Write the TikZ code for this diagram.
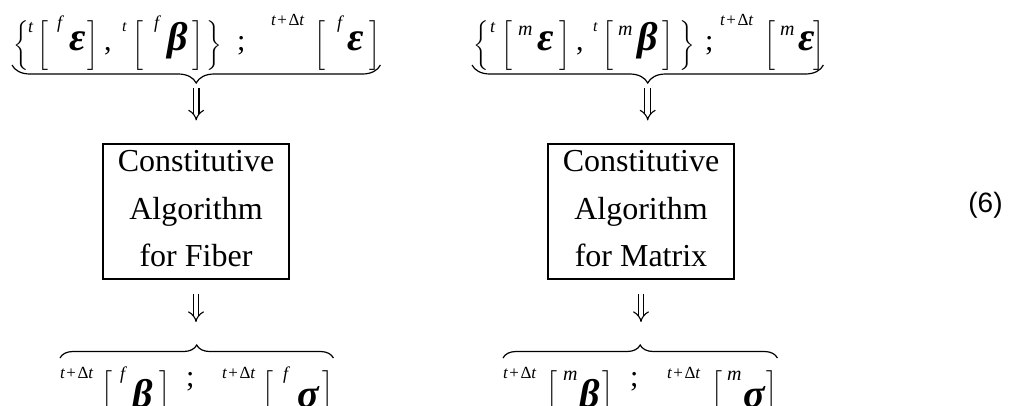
\documentclass[tikz,border=0pt]{standalone}
\usepackage{amsmath}
\usepackage{exscale}
\usepackage{fontspec}
\setmainfont{Liberation Serif}
\newfontfamily\sansf{Liberation Sans}
\usetikzlibrary{calc,decorations.pathreplacing,arrows.meta}
\delimiterfactor=1000
\delimitershortfall=0pt
\newcommand\at[2]{\rlap{\hspace*{#1pt}#2}}
\newcommand\dlm[3]{\raisebox{#3pt}{$\left#1\vcenter{\hrule height #2pt width 0pt}\right.$}}
\newcommand\gk[1]{{\fontsize{40}{40}\selectfont\bfseries\itshape #1}}
\newcommand\sps[3]{\raisebox{#2pt}{\fontsize{#1}{#1}\selectfont\itshape #3}}
\newcommand\tdt{{\fontsize{17}{17}\selectfont\itshape t\kern1.5pt\upshape+\kern1.5pt Δ\itshape t}}
\newcommand\pn[2]{\raisebox{#1pt}{\fontsize{30}{30}\selectfont #2}}
\tikzset{
  fml/.style={anchor=base west, inner sep=0pt, font=\fontsize{20}{24}\selectfont},
  box/.style={draw, line width=1.1pt, minimum width=186pt, minimum height=135pt,
    align=center, inner sep=0pt, text depth=6pt, font=\fontsize{32}{47.5}\selectfont},
  brc/.style={decorate, line width=1.2pt},
  dar/.style={double, double distance=4.5pt, line width=1.1pt, -{Implies[scale=1.5]}}
}
\begin{document}
\begin{tikzpicture}[x=1pt,y=-1pt]
\useasboundingbox (0,0) rectangle (1015,405);
% top formulas
\node[fml] (fA) at (12,50) {%
\at{1}{\dlm\{{48}{-1}}%
\at{16}{\sps{18}{18}{t}}%
\at{25}{\dlm[{45}{-1}}%
\at{45}{\sps{18}{22}{f}}%
\at{57}{\gk{ε}}%
\at{75}{\dlm]{45}{-1}}%
\at{92}{\pn{0}{,}}%
\at{110}{\sps{16}{19}{t}}%
\at{120}{\dlm[{45}{-1}}%
\at{142}{\sps{18}{22}{f}}%
\at{155}{\gk{β}}%
\at{180}{\dlm]{45}{-1}}%
\at{194}{\dlm\}{48}{-1}}%
\at{225}{\pn{0}{;}}%
\at{259}{\raisebox{25pt}{\tdt}}%
\at{302}{\dlm[{45}{-1}}%
\at{325}{\sps{18}{22}{f}}%
\at{335}{\gk{ε}}%
\at{357}{\dlm]{45}{-1}}%
\hspace*{368pt}};
\node[fml] (fB) at (472,50) {%
\at{1}{\dlm\{{48}{-1}}%
\at{18}{\sps{18}{18}{t}}%
\at{29}{\dlm[{45}{-1}}%
\at{46}{\sps{20}{15}{m}}%
\at{65}{\gk{ε}}%
\at{87}{\dlm]{45}{-1}}%
\at{104}{\pn{0}{,}}%
\at{121}{\sps{16}{19}{t}}%
\at{130}{\dlm[{45}{-1}}%
\at{146}{\sps{20}{15}{m}}%
\at{165}{\gk{β}}%
\at{190}{\dlm]{45}{-1}}%
\at{207}{\dlm\}{48}{-1}}%
\at{233}{\pn{0}{;}}%
\at{248}{\raisebox{25pt}{\tdt}}%
\at{292}{\dlm[{45}{-1}}%
\at{308}{\sps{20}{15}{m}}%
\at{326}{\gk{ε}}%
\at{341}{\dlm]{45}{-1}}%
\hspace*{351pt}};
% bottom formulas
\node[fml] (fC) at (60,407) {%
\at{0}{\raisebox{29pt}{\tdt}}%
\at{41}{\dlm[{45}{6}}%
\at{60}{\sps{18}{28}{f}}%
\at{72}{\gk{β}}%
\at{99}{\dlm]{45}{6}}%
\at{126}{\pn{20.5}{;}}%
\at{162}{\raisebox{29pt}{\tdt}}%
\at{202}{\dlm[{45}{6}}%
\at{223}{\sps{18}{28}{f}}%
\at{237}{\gk{σ}}%
\at{262}{\dlm]{45}{6}}%
\hspace*{273pt}};
\node[fml] (fD) at (503,407) {%
\at{0}{\raisebox{29pt}{\tdt}}%
\at{43}{\dlm[{45}{6}}%
\at{60}{\sps{20}{27}{m}}%
\at{76}{\gk{β}}%
\at{99}{\dlm]{45}{6}}%
\at{127}{\pn{20.5}{;}}%
\at{164}{\raisebox{29pt}{\tdt}}%
\at{208}{\dlm[{45}{6}}%
\at{224}{\sps{20}{27}{m}}%
\at{240}{\gk{σ}}%
\at{263}{\dlm]{45}{6}}%
\hspace*{274pt}};
% boxes
\node[box] (bA) at (196,211.5) {Constitutive\\Algorithm\\for Fiber};
\node[box] (bB) at (641,211.5) {Constitutive\\Algorithm\\for Matrix};
% braces
\draw[brc, decoration={brace,mirror,amplitude=18pt}] ($(fA.base west)+(0,15)$) -- ($(fA.base east)+(0,15)$);
\draw[brc, decoration={brace,mirror,amplitude=18pt}] ($(fB.base west)+(0,15)$) -- ($(fB.base east)+(0,15)$);
\draw[brc, decoration={brace,amplitude=13pt}] ($(fC.base west)+(0,-49)$) -- ($(fC.base east)+(0,-49)$);
\draw[brc, decoration={brace,amplitude=13pt}] ($(fD.base west)+(0,-49)$) -- ($(fD.base east)+(0,-49)$);
\coordinate (tA) at ($(fA.base)+(0,33)$);
\coordinate (tB) at ($(fB.base)+(0,33)$);
\coordinate (tC) at ($(fC.base)+(0,-62)$);
\coordinate (tD) at ($(fD.base)+(0,-62)$);
% arrows
\draw[dar, shorten <=5pt, shorten >=23pt] (tA) -- (tA |- bA.north);
\draw[dar, shorten <=5pt, shorten >=23pt] (tB) -- (tB |- bB.north);
\draw[dar, shorten <=14pt, shorten >=23pt] (bA.south) -- (bA.south |- tC);
\draw[dar, shorten <=14pt, shorten >=23pt] (bB.south) -- (bB.south |- tD);
% equation number
\node[font=\sansf\fontsize{28}{28}\selectfont] (eq) at (985.5,205.5) {(6)};
\end{tikzpicture}
\end{document}
